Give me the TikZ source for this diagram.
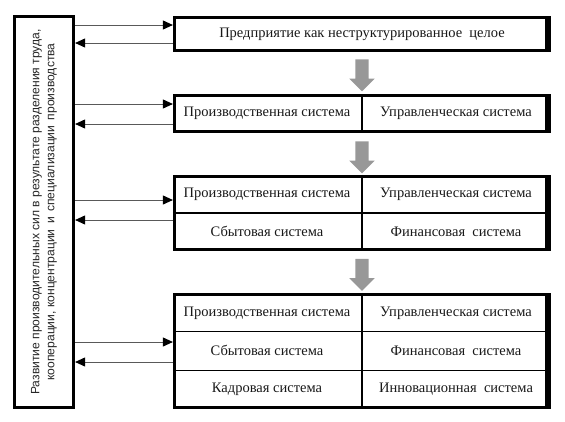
\documentclass[tikz,border=0pt]{standalone}
\usepackage{fontspec}
\setmainfont{Liberation Serif}
\newfontfamily\lsans{Liberation Sans}
\usetikzlibrary{arrows.meta,shapes.arrows}
\begin{document}
\begin{tikzpicture}[x=1pt,y=-1pt,
 frame/.style={draw, line width=3.2pt, inner sep=0, fill=white},
 cell/.style={font=\fontsize{14.5}{16}\selectfont, inner sep=0, text=black!90},
 conn/.style={draw=gray!70!black, line width=0.9pt, -{Triangle[color=black,length=10pt,width=9pt]}},
 garrow/.style={single arrow, fill=gray!85!black!70, draw=none, inner sep=6.5pt, minimum height=32pt, single arrow head extend=6pt, shape border rotate=270},
 divider/.style={line width=1.2pt},
 rbar/.style={fill=black}]
\useasboundingbox (0,0) rectangle (565,421);

% left box
\node[frame, minimum width=59pt, minimum height=391pt] (L) at (44,212) {};
\node[rotate=90, font=\lsans\fontsize{12.1}{15}\selectfont, align=center, text=black!85] (Ltext) at (L.center)
 {Развитие производительных сил в результате разделения труда,\\кооперации, концентрации\, и\, специализации\, производства};

% boxes
\node[frame, minimum width=375pt, minimum height=33pt] (B1) at (362,34) {};
\node[frame, minimum width=375pt, minimum height=36pt] (B2) at (362,113.5) {};
\node[frame, minimum width=375pt, minimum height=73pt] (B3) at (362,213) {};
\node[frame, minimum width=375pt, minimum height=113pt] (B4) at (362,351) {};

\foreach \b in {B1,B2,B3,B4}{
  \fill[rbar] (\b.north east) rectangle ([xshift=-6pt]\b.south east);
}

% dividers
\draw[divider] (B2.north) -- (B2.south);
\draw[divider] (B3.north) -- (B3.south);
\draw[divider] (B3.west) -- (B3.east);
\draw[divider] (B4.north) -- (B4.south);
\draw[divider] ([yshift=19.3pt]B4.west) -- ([yshift=19.3pt]B4.east);
\draw[divider] ([yshift=-19.3pt]B4.west) -- ([yshift=-19.3pt]B4.east);

% texts
\node[cell] (t1) at (362,34) {Предприятие как неструктурированное\ \ целое};
\node[cell] (t2a) at (267,113.5) {Производственная система};
\node[cell] (t2b) at (456,113.5) {Управленческая система};
\node[cell] (t3a) at (267,194) {Производственная система};
\node[cell] (t3b) at (456,194) {Управленческая система};
\node[cell] (t3c) at (267,231.5) {Сбытовая система};
\node[cell] (t3d) at (456,231.5) {Финансовая\ \ система};
\node[cell] (t4a) at (267,313) {Производственная система};
\node[cell] (t4b) at (456,313) {Управленческая система};
\node[cell] (t4c) at (267,350.5) {Сбытовая система};
\node[cell] (t4d) at (456,350.5) {Финансовая\ \ система};
\node[cell] (t4e) at (267,389) {Кадровая система};
\node[cell] (t4f) at (456,389) {Инновационная\ \ система};

% gray arrows
\node[garrow] (A1) at (362,72) {};
\node[garrow] (A2) at (362,154) {};
\node[garrow] (A3) at (362,271.5) {};

% connectors
\coordinate (p1) at ([yshift=9pt]B1.west);
\coordinate (q1) at ([yshift=-9pt]B1.west);
\coordinate (p2) at ([yshift=9.5pt]B2.west);
\coordinate (q2) at ([yshift=-10.5pt]B2.west);
\coordinate (p3) at ([yshift=13pt]B3.west);
\coordinate (q3) at ([yshift=-7pt]B3.west);
\coordinate (p4) at ([yshift=9pt]B4.west);
\coordinate (q4) at ([yshift=-11pt]B4.west);
\foreach \i in {1,2,3,4}{
  \draw[conn] (p\i -| L.east) -- (p\i);
  \draw[conn] (q\i) -- (q\i -| L.east);
}
\end{tikzpicture}
\end{document}
